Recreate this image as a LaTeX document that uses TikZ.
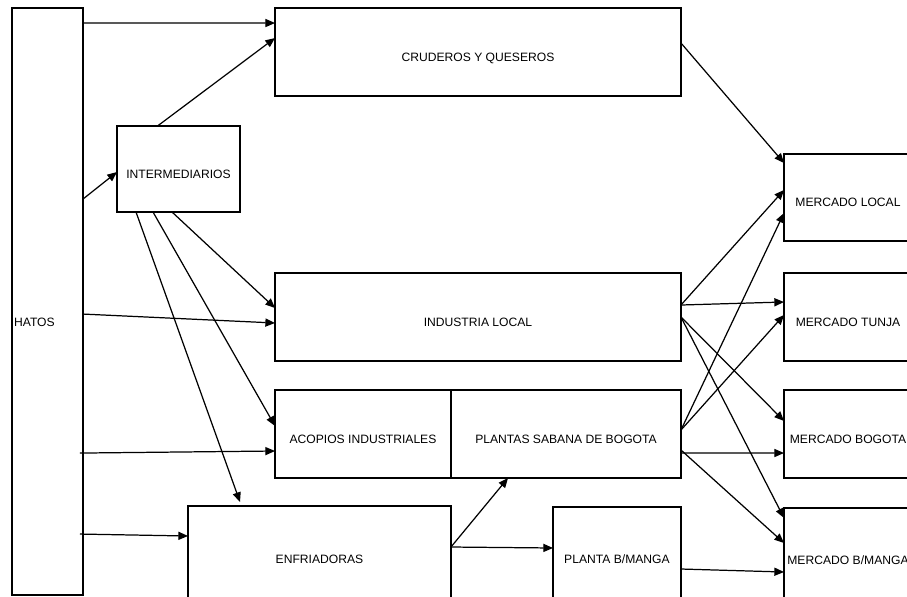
\documentclass[tikz,border=0pt]{standalone}
\usepackage{fontspec}
\setmainfont{Liberation Sans}
\usetikzlibrary{arrows.meta,calc}

\begin{document}
\begin{tikzpicture}[x=0.02cm,y=-0.02cm,
    box/.style={draw,line width=1.4pt,outer sep=0pt,inner sep=0pt,
      text height=10.5pt,text depth=0pt,
      font=\fontsize{6.9}{8}\selectfont},
    flow/.style={line width=0.7pt,-{Triangle[length=5.5pt,width=4.6pt]}}]
  \useasboundingbox (0,0) rectangle (907,596);
  % boxes
  \node[box,minimum width=1.42cm,minimum height=11.74cm,
    label={[anchor=west,inner sep=1pt,yshift=-0.42cm,font=\fontsize{6.9}{8}\selectfont]west:HATOS}]
    (hatos) at (47.5,301.5) {};
  \node[box,minimum width=8.12cm,minimum height=1.76cm] (cru) at (478,52) {CRUDEROS Y QUESEROS};
  \node[box,minimum width=2.46cm,minimum height=1.72cm] (inter) at (178.5,169) {INTERMEDIARIOS};
  \node[box,minimum width=8.12cm,minimum height=1.76cm] (ind) at (478,317) {INDUSTRIA LOCAL};
  \node[box,minimum width=3.52cm,minimum height=1.76cm] (acop) at (363,434) {ACOPIOS INDUSTRIALES};
  \node[box,minimum width=4.6cm,minimum height=1.76cm] (plan) at (566,434) {PLANTAS SABANA DE BOGOTA};
  \node[box,minimum width=5.26cm,minimum height=1.92cm] (enf) at (319.5,554) {ENFRIADORAS};
  \node[box,minimum width=2.56cm,minimum height=1.9cm] (plb) at (617,554.5) {PLANTA B/MANGA};
  \node[box,minimum width=2.56cm,minimum height=1.74cm] (ml) at (848,197.5) {MERCADO LOCAL};
  \node[box,minimum width=2.56cm,minimum height=1.76cm] (mt) at (848,317) {MERCADO TUNJA};
  \node[box,minimum width=2.56cm,minimum height=1.76cm] (mb) at (848,434) {MERCADO BOGOTA};
  \node[box,minimum width=2.56cm,minimum height=1.88cm] (mbm) at (848,555) {MERCADO B/MANGA};
  % from hatos
  \draw[flow] ($(hatos.north east)+(0,15)$) -- ($(cru.north west)+(0,15)$);
  \draw[flow] ($(hatos.north east)+(0,191)$) -- ($(inter.west)+(0,3)$);
  \draw[flow] ($(hatos.north east)+(0,306)$) -- ($(ind.west)+(0,6)$);
  \draw[flow] ($(hatos.north east)+(-3,445)$) -- ($(acop.west)+(0,17)$);
  \draw[flow] ($(hatos.north east)+(-3,526)$) -- ($(enf.west)+(0,-18)$);
  % from intermediarios
  \draw[flow] ($(inter.north)+(-21,0)$) -- ($(cru.north west)+(0,30)$);
  \draw[flow] ($(inter.south)+(-6.5,0)$) -- ($(ind.west)+(0,-9)$);
  \draw[flow] ($(inter.south)+(-25.5,0)$) -- ($(acop.west)+(0,-8)$);
  \draw[flow] ($(inter.south)+(-42.5,0)$) -- ($(enf.north west)+(52,-4)$);
  % from enfriadoras
  \draw[flow] ($(enf.north east)+(0,41)$) -- ($(plan.south west)+(57,0)$);
  \draw[flow] ($(enf.north east)+(0,41)$) -- ($(plb.west)+(0,-6.5)$);
  % to the markets
  \draw[flow] ($(cru.north east)+(0,35)$) -- ($(ml.north west)+(0,9)$);
  \draw[flow] ($(ind.north east)+(0,32)$) -- ($(ml.west)+(0,-7.5)$);
  \draw[flow] ($(ind.north east)+(0,32)$) -- ($(mt.west)+(0,-15)$);
  \draw[flow] ($(ind.north east)+(0,44)$) -- ($(mb.west)+(0,-13)$);
  \draw[flow] ($(ind.north east)+(0,44)$) -- ($(mbm.north west)+(0,10)$);
  \draw[flow] ($(plan.north east)+(0,40)$) -- ($(ml.west)+(0,15.5)$);
  \draw[flow] ($(plan.north east)+(0,40)$) -- ($(mt.west)+(0,-2)$);
  \draw[flow] ($(plan.north east)+(0,63)$) -- ($(mb.west)+(0,19)$);
  \draw[flow] ($(plan.north east)+(0,60)$) -- ($(mbm.north west)+(0,35)$);
  \draw[flow] ($(plb.north east)+(0,62)$) -- ($(mbm.north west)+(0,64)$);
\end{tikzpicture}
\end{document}
